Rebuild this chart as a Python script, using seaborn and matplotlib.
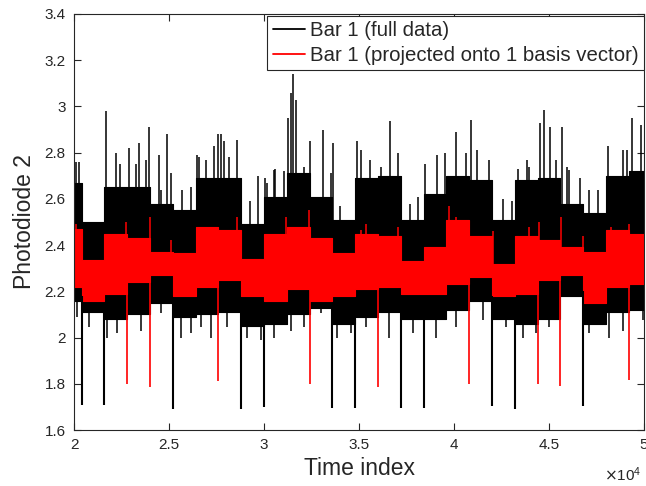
import numpy as np
import pandas as pd
import matplotlib
matplotlib.use('Agg')
import matplotlib.pyplot as plt
from matplotlib.lines import Line2D
from matplotlib.ticker import FuncFormatter, MultipleLocator
import seaborn as sns

# segment edges (time index); the signal changes level every 1200 samples
seg_edges = [20000, 20400, 21600, 22800, 24000, 25200, 26400, 27600, 28800, 30000,
             31200, 32400, 33600, 34800, 36000, 37200, 38400, 39600, 40800, 42000,
             43200, 44400, 45600, 46800, 48000, 49200, 50000]

# full data: dense body of the trace in each segment
black_hi = [2.67, 2.50, 2.65, 2.65, 2.58, 2.55, 2.69, 2.69, 2.49, 2.61, 2.71, 2.61, 2.51,
            2.69, 2.70, 2.51, 2.62, 2.70, 2.68, 2.51, 2.68, 2.69, 2.58, 2.54, 2.70, 2.72]
black_lo = [2.16, 2.11, 2.08, 2.10, 2.15, 2.09, 2.10, 2.11, 2.05, 2.06, 2.10, 2.13, 2.06,
            2.09, 2.11, 2.08, 2.08, 2.12, 2.16, 2.08, 2.06, 2.08, 2.18, 2.06, 2.11, 2.12]

# projected data
red_hi = [2.47, 2.335, 2.45, 2.43, 2.37, 2.365, 2.48, 2.465, 2.34, 2.45, 2.48, 2.43, 2.365,
          2.45, 2.44, 2.33, 2.39, 2.51, 2.44, 2.32, 2.44, 2.42, 2.39, 2.37, 2.465, 2.45]
red_lo = [2.22, 2.16, 2.19, 2.24, 2.27, 2.18, 2.22, 2.25, 2.18, 2.16, 2.21, 2.16, 2.18,
          2.21, 2.22, 2.19, 2.19, 2.23, 2.26, 2.18, 2.19, 2.25, 2.27, 2.15, 2.22, 2.23]

# upward spikes of the full data
peak_idx = [20105, 20263, 21684, 22195, 22421, 22911, 23247, 23421, 23774, 23963, 24489,
            24563, 24911, 25089, 25700, 26142, 26458, 26579, 26932, 27368, 27595, 27721,
            27911, 28158, 28563, 29263, 29700, 30053, 30174, 30526, 30579, 31053, 31263,
            31395, 31542, 31684, 32105, 32420, 33121, 33510, 33605, 33999, 34911, 35105,
            35579, 36158, 36632, 37068, 37684, 38089, 38474, 39089, 39526, 40105, 40631,
            40879, 41226, 41858, 42563, 43037, 43384, 43858, 43963, 44526, 44737, 45053,
            45368, 45668, 45932, 46068, 46632, 47121, 47595, 48121, 48879, 49089, 49384,
            49842]
peak_val = [2.76, 2.76, 2.98, 2.80, 2.75, 2.82, 2.75, 2.84, 2.77, 2.91, 2.79,
            2.64, 2.88, 2.71, 2.64, 2.65, 2.79, 2.78, 2.77, 2.83, 2.88, 2.88,
            2.85, 2.78, 2.855, 2.59, 2.70, 2.69, 2.67, 2.725, 2.73, 2.72, 2.95,
            3.06, 3.14, 3.03, 2.74, 2.85, 2.90, 2.71, 2.84, 2.57, 2.85, 2.81,
            2.77, 2.74, 2.935, 2.80, 2.58, 2.61, 2.75, 2.79, 2.80, 2.89, 2.80,
            2.94, 2.81, 2.77, 2.60, 2.59, 2.73, 2.77, 2.74, 2.93, 2.985, 2.91,
            2.77, 2.91, 2.74, 2.725, 2.69, 2.64, 2.64, 2.83, 2.81, 2.81, 2.95,
            2.92]

# deepest points of the lower edge of the full data
low_idx = [20174, 20789, 21753, 22279, 23511, 24563, 25616, 26142, 26668, 27195, 28068,
           29121, 29826, 30526, 31405, 32105, 32984, 33858, 34563, 35368, 36595, 37826,
           39053, 40105, 41511, 42737, 43616, 44316, 45016, 47121, 48174, 48879, 49932]
low_val = [2.09, 2.047, 2.0, 2.02, 2.03, 2.105, 2.0, 2.02, 2.047, 2.0, 2.047,
           2.0, 1.99, 2.0, 2.03, 2.047, 2.105, 2.0, 2.02, 2.047, 2.0, 2.02,
           2.0, 2.047, 2.076, 2.047, 2.0, 2.02, 2.047, 2.02, 2.0, 2.03, 2.076]

# upward spikes of the projected data
red_peak_idx = [20088, 22720, 23980, 25090, 28595, 31142, 32368, 35089, 35368, 37037,
                39753, 40105, 42037, 43963, 44489, 45632, 46774, 48263, 49226]
red_peak_val = [2.49, 2.50, 2.52, 2.42, 2.52, 2.52, 2.55, 2.465, 2.49, 2.48,
                2.57, 2.52, 2.46, 2.48, 2.50, 2.52, 2.44, 2.48, 2.49]

# downward glitches at segment boundaries
dip_black_idx = [20400, 21600, 25200, 28800, 30000, 33600, 34800, 37200, 38400, 42000, 43200, 46800]
dip_black_val = [1.707, 1.71, 1.69, 1.69, 1.70, 1.697, 1.697, 1.697, 1.697, 1.703, 1.69, 1.703]
dip_red_idx = [22800, 24000, 27600, 32400, 36000, 40800, 44400, 45600, 49200]
dip_red_val = [1.80, 1.787, 1.813, 1.798, 1.784, 1.798, 1.797, 1.792, 1.817]

sns.set_style('ticks')
plt.rcParams['font.family'] = ['Liberation Sans', 'DejaVu Sans']

fig = plt.figure(figsize=(6.46, 4.86), dpi=100)
ax = fig.add_axes([0.1146, 0.1152, 0.8824, 0.856])

edges = np.array(seg_edges)


def seg_level(vals, idx):
    k = np.searchsorted(edges, idx, side='right') - 1
    return np.array(vals)[np.clip(k, 0, len(vals) - 1)]


def stepped(vals):
    return np.r_[vals, vals[-1]]


# full data
ax.fill_between(edges, stepped(black_lo), stepped(black_hi), step='post',
                color='black', lw=0.8, edgecolor='black')
base = seg_level(black_hi, np.array(peak_idx)) - 0.02
ax.vlines(peak_idx, base, peak_val, color='black', lw=1.1)
low_top = seg_level(black_lo, np.array(low_idx)) + 0.02
ax.vlines(low_idx, low_val, low_top, color='black', lw=1.1)
ax.vlines(dip_black_idx, dip_black_val, seg_level(black_lo, np.array(dip_black_idx) - 1) + 0.02,
          color='black', lw=1.5)

# projected data
ax.fill_between(edges, stepped(red_lo), stepped(red_hi), step='post',
                color='red', lw=0.8, edgecolor='red')
red_base = seg_level(red_hi, np.array(red_peak_idx)) - 0.02
ax.vlines(red_peak_idx, red_base, red_peak_val, color='red', lw=1.1)
ax.vlines(dip_red_idx, dip_red_val, seg_level(red_lo, np.array(dip_red_idx) - 1) + 0.02,
          color='red', lw=1.2)

ax.set_xlim(20000, 50000)
ax.set_ylim(1.6, 3.4)
ax.xaxis.set_major_locator(MultipleLocator(5000))
ax.yaxis.set_major_locator(MultipleLocator(0.2))
ax.xaxis.set_major_formatter(FuncFormatter(lambda v, p: f'{v / 1e4:g}'))
ax.yaxis.set_major_formatter(FuncFormatter(lambda v, p: f'{v:g}'))

for s in ax.spines.values():
    s.set_visible(True)
    s.set_color('#262626')
    s.set_linewidth(0.8)
ax.tick_params(direction='in', top=True, right=True, length=5, width=0.8,
               color='#262626', labelsize=11, labelcolor='#262626', pad=6)

ax.set_xlabel('Time index', fontsize=16.5, color='#262626', labelpad=3)
ax.set_ylabel('Photodiode 2', fontsize=16.5, color='#262626', labelpad=6)
ax.text(0.995, -0.085, r'$\times\mathregular{10^{4}}$', transform=ax.transAxes,
        ha='right', va='top', fontsize=11, color='#262626')

handles = [Line2D([], [], color='black', lw=1.3), Line2D([], [], color='red', lw=1.3)]
leg = ax.legend(handles, ['Bar 1 (full data)', 'Bar 1 (projected onto 1 basis vector)'],
                loc='upper right', bbox_to_anchor=(1.0, 0.995), borderaxespad=0.0,
                fontsize=14.7, fancybox=False, framealpha=1, edgecolor='#262626',
                handlelength=1.6, handletextpad=0.25, borderpad=0.25, labelspacing=0.3)
leg.get_frame().set_linewidth(0.8)

fig.savefig('out.png', dpi=100)
